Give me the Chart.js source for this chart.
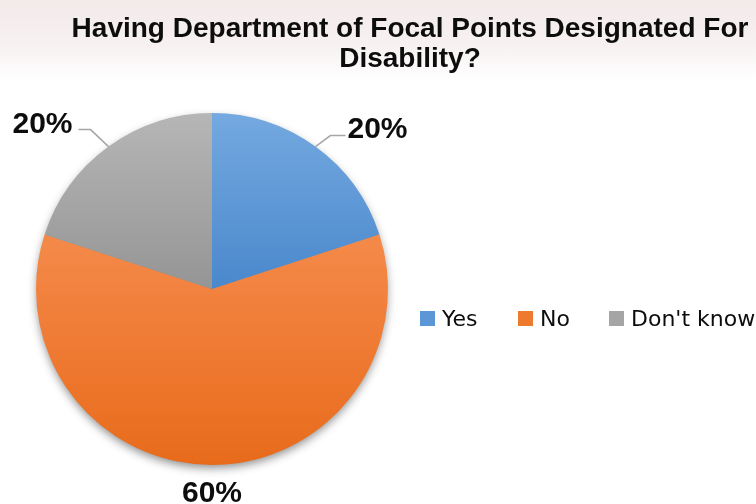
<!DOCTYPE html>
<html>
<head>
<meta charset="utf-8">
<script src="https://cdn.jsdelivr.net/npm/chart.js@4/dist/chart.umd.min.js"></script>
<style>
  html, body { margin: 0; padding: 0; }
  body {
    width: 756px;
    height: 504px;
    overflow: hidden;
    background: linear-gradient(to bottom, #f3eaea 0px, #f7f1f1 45px, #ffffff 80px);
  }
  canvas { display: block; }
</style>
</head>
<body>
<canvas id="pieChart" width="756" height="504"></canvas>
<script>
const titleLines = ["Having Department of Focal Points Designated For", "Disability?"];
const answers = ["Yes", "No", "Don't know"];
const shares = [20, 60, 20];

// top / middle / bottom shades for each slice
const sliceShades = [
  ["#74a9e0", "#4a88cc", "#3d7bc0"],
  ["#f79c62", "#f2823f", "#e86b1b"],
  ["#b6b6b6", "#959595", "#878787"],
];
const legendSwatch = ["#5b96d6", "#ee7a2e", "#a5a5a5"];

const canvas = document.querySelector("#pieChart");

function sliceFill(context) {
  const chart = context.chart;
  const area = chart.chartArea;
  const shades = sliceShades[context.dataIndex];
  if (!area) return shades[1];
  const grad = chart.ctx.createLinearGradient(0, area.top, 0, area.bottom);
  grad.addColorStop(0, shades[0]);
  grad.addColorStop(0.5, shades[1]);
  grad.addColorStop(1, shades[2]);
  return grad;
}

// soft shadow under the whole pie
const pieShadow = {
  id: "pieShadow",
  beforeDatasetsDraw(chart) {
    const arc = chart.getDatasetMeta(0).data[0];
    if (!arc) return;
    const ctx = chart.ctx;
    ctx.save();
    ctx.shadowColor = "rgba(0,0,0,0.45)";
    ctx.shadowBlur = 10;
    ctx.shadowOffsetY = 4;
    ctx.fillStyle = "#888";
    ctx.beginPath();
    ctx.arc(arc.x, arc.y, arc.outerRadius - 1, 0, Math.PI * 2);
    ctx.fill();
    ctx.restore();
  },
};

// percent labels with leader lines
const labelLeaders = [
  { elbow: [15, -11], run: 15, align: "left", gap: 2, base: 138 },
  { elbow: null, run: 0, align: "center", gap: 0, base: 502 },
  { elbow: [-18, -17], run: -12, align: "right", gap: -6, base: 133 },
];

const pieLabels = {
  id: "pieLabels",
  afterDatasetsDraw(chart) {
    const ctx = chart.ctx;
    const total = shares.reduce((a, b) => a + b, 0);
    chart.getDatasetMeta(0).data.forEach((arc, i) => {
      const mid = (arc.startAngle + arc.endAngle) / 2;
      const ex = arc.x + arc.outerRadius * Math.cos(mid);
      const ey = arc.y + arc.outerRadius * Math.sin(mid);
      const spec = labelLeaders[i];
      const text = Math.round((shares[i] / total) * 100) + "%";
      let tx = ex;
      ctx.save();
      if (spec.elbow) {
        const bx = ex + spec.elbow[0];
        const by = ey + spec.elbow[1];
        ctx.strokeStyle = "#a6a6a6";
        ctx.lineWidth = 1.5;
        ctx.beginPath();
        ctx.moveTo(ex, ey);
        ctx.lineTo(bx, by);
        ctx.lineTo(bx + spec.run, by);
        ctx.stroke();
        tx = bx + spec.run + spec.gap;
      }
      ctx.fillStyle = "#0d0d0d";
      ctx.font = "bold 30px 'Liberation Sans', sans-serif";
      ctx.textAlign = spec.align;
      ctx.textBaseline = "alphabetic";
      ctx.fillText(text, tx, spec.base);
      ctx.restore();
    });
  },
};

// title and the one-row legend
const chartText = {
  id: "chartText",
  afterDraw(chart) {
    const ctx = chart.ctx;
    ctx.save();
    ctx.fillStyle = "#0d0d0d";
    ctx.textAlign = "center";
    ctx.textBaseline = "alphabetic";
    ctx.font = "bold 28px 'Liberation Sans', sans-serif";
    ctx.fillText(titleLines[0], 410, 37);
    ctx.fillText(titleLines[1], 410, 67);

    const legendX = [420, 518, 609];
    ctx.textAlign = "left";
    ctx.font = "22px 'DejaVu Sans', sans-serif";
    answers.forEach((name, i) => {
      ctx.fillStyle = legendSwatch[i];
      ctx.fillRect(legendX[i], 311, 15, 15);
      ctx.fillStyle = "#0d0d0d";
      ctx.fillText(name, legendX[i] + 22, 326);
    });
    ctx.restore();
  },
};

new Chart(canvas, {
  type: "pie",
  data: {
    labels: answers,
    datasets: [
      {
        data: shares,
        backgroundColor: sliceFill,
        borderWidth: 0,
      },
    ],
  },
  options: {
    responsive: false,
    animation: false,
    devicePixelRatio: 1,
    layout: { padding: { left: 36, right: 368, top: 113, bottom: 39 } },
    plugins: {
      legend: { display: false },
      title: { display: false },
      tooltip: { enabled: false },
    },
  },
  plugins: [pieShadow, pieLabels, chartText],
});
</script>
</body>
</html>
